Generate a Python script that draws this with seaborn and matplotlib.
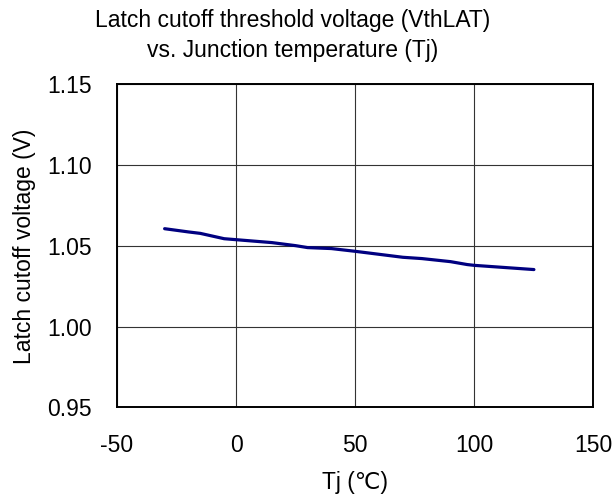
import numpy as np
import pandas as pd
import matplotlib
matplotlib.use("Agg")
import matplotlib.pyplot as plt
import seaborn as sns

# values
tj = [-30, -20, -15, -5, 0, 15, 25, 30, 40, 50, 70, 78, 90, 97, 100, 125]
vth_lat = [1.0607, 1.0587, 1.0578, 1.0545, 1.0539, 1.0521, 1.0502, 1.0490, 1.0484,
           1.0467, 1.0430, 1.0422, 1.0403, 1.0385, 1.0380, 1.0354]

x_ticks = [-50, 0, 50, 100, 150]
y_ticks = [0.95, 1.00, 1.05, 1.10, 1.15]

title_1 = "Latch cutoff threshold voltage (VthLAT)"
title_2 = "vs. Junction temperature (Tj)"
x_label = "Tj (\u2103)"
y_label = "Latch cutoff voltage (V)"

sns.set_style("white")
plt.rcParams['font.family'] = ['Liberation Sans', 'DejaVu Sans']
plt.rcParams['text.color'] = 'black'
plt.rcParams['axes.labelcolor'] = 'black'
plt.rcParams['xtick.color'] = 'black'
plt.rcParams['ytick.color'] = 'black'
fs = 16.5

df = pd.DataFrame({"tj": tj, "v": vth_lat})

fig = plt.figure(figsize=(6.15, 4.99), dpi=100)
ax = fig.add_axes([0.1902, 0.1834, 0.7748, 0.6473])

sns.lineplot(data=df, x="tj", y="v", color="#000080", linewidth=2.3, ax=ax)

ax.set_xlim(-50, 150)
ax.set_ylim(0.95, 1.15)
ax.set_xticks(x_ticks)
ax.set_yticks(y_ticks)
ax.set_xticklabels([str(t) for t in x_ticks])
ax.set_yticklabels([f"{t:.2f}" for t in y_ticks])
ax.tick_params(length=0, labelsize=fs)
ax.tick_params(axis="y", pad=18)
ax.tick_params(axis="x", pad=19)
ax.grid(True, color="#333333", linewidth=0.8)
for s in ax.spines.values():
    s.set_color("black")
    s.set_linewidth(1.4)

ax.set_xlabel(x_label, fontsize=fs, labelpad=10)
ax.set_ylabel(y_label, fontsize=fs, labelpad=8)

fig.text(0.4756, 1 - 27 / 499, title_1, ha="center", va="baseline", fontsize=fs)
fig.text(0.4756, 1 - 57 / 499, title_2, ha="center", va="baseline", fontsize=fs)

fig.savefig("out.png", dpi=100)
